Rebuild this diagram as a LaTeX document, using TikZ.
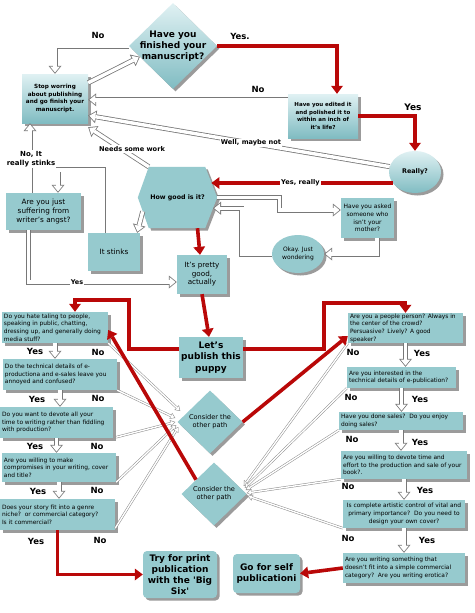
\documentclass[tikz,border=0pt]{standalone}
\usepackage{fontspec}
\setmainfont{DejaVu Sans}
\usetikzlibrary{arrows.meta,calc,shapes.geometric,shadows}
\definecolor{tealF}{RGB}{150,202,206}
\definecolor{tealL}{RGB}{224,241,243}
\definecolor{tealD}{RGB}{128,188,194}
\definecolor{dred}{RGB}{185,8,8}
\definecolor{shadowgray}{RGB}{155,155,155}
\definecolor{lgray}{RGB}{120,120,120}
\begin{document}
\begin{tikzpicture}[x=1pt,y=-1pt,
  every node/.style={inner sep=1pt},
  shd/.style={drop shadow={shadow xshift=2.5pt,shadow yshift=-2.5pt,fill=shadowgray,opacity=1}},
  box/.style={rectangle,fill=tealF,shd},
  gbox/.style={rectangle,top color=tealL,bottom color=tealD,shd},
  lbox/.style={box,inner xsep=2pt,inner ysep=0pt,align=flush left,font=\fontsize{5.9}{7.7}\selectfont},
  mbox/.style={box,inner sep=1pt,align=center},
  bigbox/.style={box,rounded corners=4pt,align=center,font=\bfseries\fontsize{9}{11}\selectfont},
  cdia/.style={diamond,fill=tealF,shd,minimum width=65pt,minimum height=63pt,inner sep=0pt,align=center,font=\fontsize{6.6}{8.3}\selectfont},
  hol/.style={draw=lgray,line width=5pt,line join=miter,
     -{Triangle[length=8pt,width=13pt,line width=0pt]},
     postaction={draw=white,line width=3.4pt,line join=miter,
     -{Triangle[length=5.9pt,width=9.6pt,line width=0pt,sep=1.27pt]}}},
  thn/.style={draw=lgray!85,line width=2.4pt,
     -{Triangle[length=5pt,width=6.5pt,line width=0pt]},
     postaction={draw=white,line width=1.4pt,
     -{Triangle[length=3.5pt,width=4.5pt,line width=0pt,sep=0.95pt]}}},
  rd/.style={draw=dred,line width=3.6pt,line join=miter,-{Triangle[length=8pt,width=12pt,line width=0pt]}},
  lab/.style={font=\bfseries\fontsize{8.5}{10}\selectfont,inner sep=1pt},
  slab/.style={font=\bfseries\fontsize{6.6}{8.2}\selectfont,inner sep=1pt,fill=white,align=center}
]
\useasboundingbox (0,0) rectangle (474,613);
\fill[white] (0,0) rectangle (474,613);

% ---------- upper part ----------
\node[diamond,top color=tealL,bottom color=tealD,shd,minimum width=88pt,minimum height=86pt,inner sep=0pt] (q1) at (173,46) {};
\node[font=\bfseries\fontsize{9}{11}\selectfont,align=center] (q1t) at (q1) {Have you\\finished your\\manuscript?};

\node[gbox,minimum width=66pt,minimum height=49pt,align=center,font=\bfseries\fontsize{5.7}{7.6}\selectfont] (stop) at (55,98.5) {Stop worring\\about publishing\\and go finish your\\manuscript.};

\node[gbox,minimum width=70pt,minimum height=44pt,align=center,font=\bfseries\fontsize{5.5}{7.7}\selectfont] (edit) at (323,116) {Have you edited it\\and polished it to\\within an inch of\\it's life?};

\node[ellipse,top color=tealL,bottom color=tealD,shd,minimum width=52pt,minimum height=42pt,inner sep=0pt,font=\bfseries\fontsize{6.4}{8}\selectfont] (really) at (415,172) {Really?};

\path node[minimum width=79pt,minimum height=61pt,inner sep=0pt] (hex) at (177.5,197.5) {};
\coordinate (hTL) at ($(hex.north west)+(11,0)$);
\coordinate (hTR) at ($(hex.north east)+(-12,0)$);
\coordinate (hBL) at ($(hex.south west)+(11,0)$);
\coordinate (hBR) at ($(hex.south east)+(-12,0)$);
\fill[tealF,shd] (hex.west) -- (hTL) -- (hTR) -- (hex.east) -- (hBR) -- (hBL) -- cycle;
\node[font=\bfseries\fontsize{6.3}{8}\selectfont] (hext) at (hex) {How good is it?};

\node[mbox,minimum width=75pt,minimum height=37pt,font=\fontsize{7.3}{8.6}\selectfont] (angst) at (43.5,211.5) {Are you just\\suffering from\\writer's angst?};
\node[mbox,minimum width=52pt,minimum height=38pt,font=\fontsize{7.3}{8.6}\selectfont] (stinks) at (114,252) {It stinks};
\node[mbox,minimum width=50pt,minimum height=39pt,font=\fontsize{7.2}{8.4}\selectfont] (good) at (202,274.5) {It's pretty\\good,\\actually};
\node[mbox,minimum width=53pt,minimum height=40pt,font=\fontsize{6}{7.7}\selectfont] (asked) at (367.5,218) {Have you asked\\someone who\\isn't your\\mother?};
\node[ellipse,fill=tealF,shd,minimum width=52pt,minimum height=38pt,inner sep=0pt,align=center,font=\fontsize{6}{8}\selectfont] (okay) at (298,254) {Okay. Just\\wondering};

% ---------- middle / lower ----------
\node[box,minimum width=64pt,minimum height=41pt,align=center,font=\bfseries\fontsize{9}{11.5}\selectfont] (lets) at (211,357.5) {Let's\\publish this\\puppy};

\node[lbox,text width=102pt,minimum height=31pt] (l1) at (55,327.5) {Do you hate taling to people,\\speaking in public, chatting,\\dressing up, and generally doing\\media stuff?};
\node[lbox,text width=110pt,minimum height=31pt] (l2) at (60,374.5) {Do the technical details of e-\\productiona and e-sales leave you\\annoyed and confused?};
\node[lbox,text width=109pt,minimum height=31pt] (l3) at (56.5,422.5) {Do you want to devote all your\\time to writing rather than fiddling\\with production?};
\node[lbox,text width=110pt,minimum height=29pt] (l4) at (59,467.5) {Are you willing to make\\compromises in your writing, cover\\and title?};
\node[lbox,text width=111pt,minimum height=31pt] (l5) at (57.5,514.5) {Does your story fit into a genre\\niche?\ \ or commercial category?\\Is it commercial?};

\node[lbox,text width=111pt,minimum height=30pt] (r1) at (405.5,328) {Are you a people person? Always in\\the center of the crowd?\\Persuasive? Lively? A good\\speaker?};
\node[lbox,text width=105pt,minimum height=21pt] (r2) at (401.5,377.5) {Are you interested in the\\technical details of e-publication?};
\node[lbox,text width=120pt,minimum height=18pt] (r3) at (401,421) {Have you done sales?\ \ Do you enjoy\\doing sales?};
\node[lbox,text width=122pt,minimum height=28pt] (r4) at (404,465) {Are you willing to devote time and\\effort to the production and sale of your\\book?.};
\node[lbox,inner xsep=1.5pt,text width=119pt,minimum height=28pt,align=center] (r5) at (404,514) {Is complete artistic control of vital and\\primary importance?\ \ Do you need to\\design your own cover?};
\node[lbox,text width=118pt,minimum height=30pt] (r6) at (404,568) {Are you writing something that\\doesn't fit into a simple commercial\\category?\ \ Are you writing erotica?};

\node[cdia] (c1) at (210,422) {Consider the\\other path};
\node[cdia] (c2) at (214,494) {Consider the\\other path};

\node[bigbox,minimum width=74pt,minimum height=47pt] (print) at (180,574.5) {Try for print\\publication\\with the \textquotesingle Big\\Six\textquotesingle};
\node[bigbox,minimum width=67pt,minimum height=39pt] (self) at (266.5,573.5) {Go for self\\publicationi};

% ---------- connectors, upper ----------
\draw[hol] (q1.west) -| (stop.north);
\draw[hol] ($(stop.north east)+(0,9)$) -- ($(q1.west)!0.25!(q1.south)$);
\coordinate (e1) at ($(edit.north west)+(0,6)$);
\draw[hol] (e1) -- (e1 -| stop.east);
\draw[rd] (q1.east) -| ($(edit.north)+(14,0)$);
\draw[rd] (edit.east) -| (really.north);
\draw[hol] (really.168) -- node[slab,pos=0.46] (wmn) {Well, maybe not} ($(stop.east)+(0,17)$);
\coordinate (ry) at ($(really.center)+(-22,11)$);
\coordinate (hY) at ($(hTR)!0.52!(hex.east)$);
\draw[rd] (ry) -- node[slab,pos=0.51] (yr) {Yes, really} (ry -| hY);
\draw[hol] (hTL) -- ($(stop.south east)+(0,4)$);
\node[slab] (nsw) at (132,149) {Needs some work};
\coordinate (a1) at ($(angst.north)+(-13.5,0)$);
\draw[hol] (a1) -- (a1 |- stop.south);
\node[slab,font=\bfseries\fontsize{7}{8.6}\selectfont] (nrs) at (31,159) {No, It\\really stinks};
\draw[hol] ($(hex.west)!0.45!(hBL)$) -- ($(stinks.north east)+(-3,0)$);
\draw[hol] ($(stinks.north)+(-11,0)$) -- ++(0,-63) -| ($(angst.north)+(14.5,0)$);
\coordinate (a2) at ($(angst.south)+(-15,0)$);
\draw[hol] (a2) |- ($(good.west)+(0,7.5)$);
\node[slab,font=\bfseries\fontsize{6.5}{8}\selectfont] (ys1) at (77,282) {Yes};
\draw[rd] ($(hex.south)+(20,0)$) -- ($(good.north)+(-2,0)$);
\draw[hol] (hex.east) -- ++(62,0) |- ($(asked.west)+(0,-8)$);
\coordinate (a3) at ($(asked.south)+(9.5,0)$);
\draw[hol] (a3) |- (okay.east);
\coordinate (hW) at ($(hex.east)!0.35!(hBR)$);
\draw[hol] (okay.west) -- ++(-30,0) |- (hW);
\draw[rd] (good.south) -- ($(lets.north)+(-2,0)$);

\node[lab] (no1) at (98,35) {No};
\node[lab] (ye1) at (240,36) {Yes.};
\node[lab] (no2) at (258,89) {No};
\node[lab,font=\bfseries\fontsize{9}{10}\selectfont] (ye2) at (413,107) {Yes};

% ---------- connectors, lower ----------
\draw[thn] (l1.south east) -- ($(c1.west)+(3,-11)$);
\draw[thn] (l2.south east) -- ($(c1.west)+(-2,-4)$);
\draw[thn] ($(l3.south east)+(3,-1)$) -- ($(c1.west)+(-2,0)$);
\draw[thn] (l4.south east) -- ($(c1.west)+(-1,3)$);
\draw[thn] ($(l5.south east)+(0,-2)$) -- ($(c1.west)+(1,5)$);
\draw[thn] (r1.south west) -- ($(c2.east)+(-3,-8)$);
\draw[thn] (r2.south west) -- ($(c2.east)+(-2,-6)$);
\draw[thn] (r3.south west) -- ($(c2.east)+(-1,-4)$);
\draw[thn] (r4.south west) -- ($(c2.east)+(0,-1)$);
\draw[thn] (r5.south west) -- ($(c2.east)+(1,2)$);

\draw[hol] (l1.south) -- (l1.south |- l2.north);
\draw[hol] (l2.south) -- (l2.south |- l3.north);
\draw[hol] (l3.south) -- (l3.south |- l4.north);
\draw[hol] (l4.south) -- (l4.south |- l5.north);
\draw[hol] (r1.south) -- (r1.south |- r2.north);
\draw[hol] (r2.south) -- (r2.south |- r3.north);
\draw[hol] (r3.south) -- (r3.south |- r4.north);
\draw[hol] (r4.south) -- (r4.south |- r5.north);
\draw[hol] (r5.south) -- (r5.south |- r6.north);

\coordinate (b1) at ($(lets.west)+(0,-8.5)$);
\draw[rd] (b1) -- ++(-50,0) -- ++(0,-49) -| ($(l1.north)+(20,0)$);
\coordinate (b2) at ($(lets.east)+(0,-8.5)$);
\draw[rd] (b2) -- ++(81,0) -- ++(0,-46) -| (r1.north);
\draw[rd] (c1.east) -- ($(r1.west)+(0,8)$);
\draw[rd] ($(c2.west)!0.45!(c2.north)$) -- ($(l1.east)+(0,2.5)$);
\draw[rd] (l5.south) |- (print.west);
\draw[rd] (r6.west) -- (self.east);

\node[lab] (ly1) at (35,351) {Yes};  \node[lab] (ln1) at (98,352) {No};
\node[lab] (ly2) at (37,399) {Yes};  \node[lab] (ln2) at (98,398) {No};
\node[lab] (ly3) at (35,446) {Yes};  \node[lab] (ln3) at (97,446) {No};
\node[lab] (ly4) at (38,491) {Yes};  \node[lab] (ln4) at (97,490) {No};
\node[lab] (ly5) at (36,541) {Yes};  \node[lab] (ln5) at (100,540) {No};
\node[lab] (rn1) at (353,352) {No};  \node[lab] (ry1) at (422,353) {Yes};
\node[lab] (rn2) at (351,397) {No};  \node[lab] (ry2) at (420,399) {Yes};
\node[lab] (rn3) at (352,439) {No};  \node[lab] (ry3) at (420,442) {Yes};
\node[lab] (rn4) at (348,486) {No};  \node[lab] (ry4) at (425,490) {Yes};
\node[lab] (rn5) at (348,538) {No};  \node[lab] (ry5) at (427,540) {Yes};
\end{tikzpicture}
\end{document}
